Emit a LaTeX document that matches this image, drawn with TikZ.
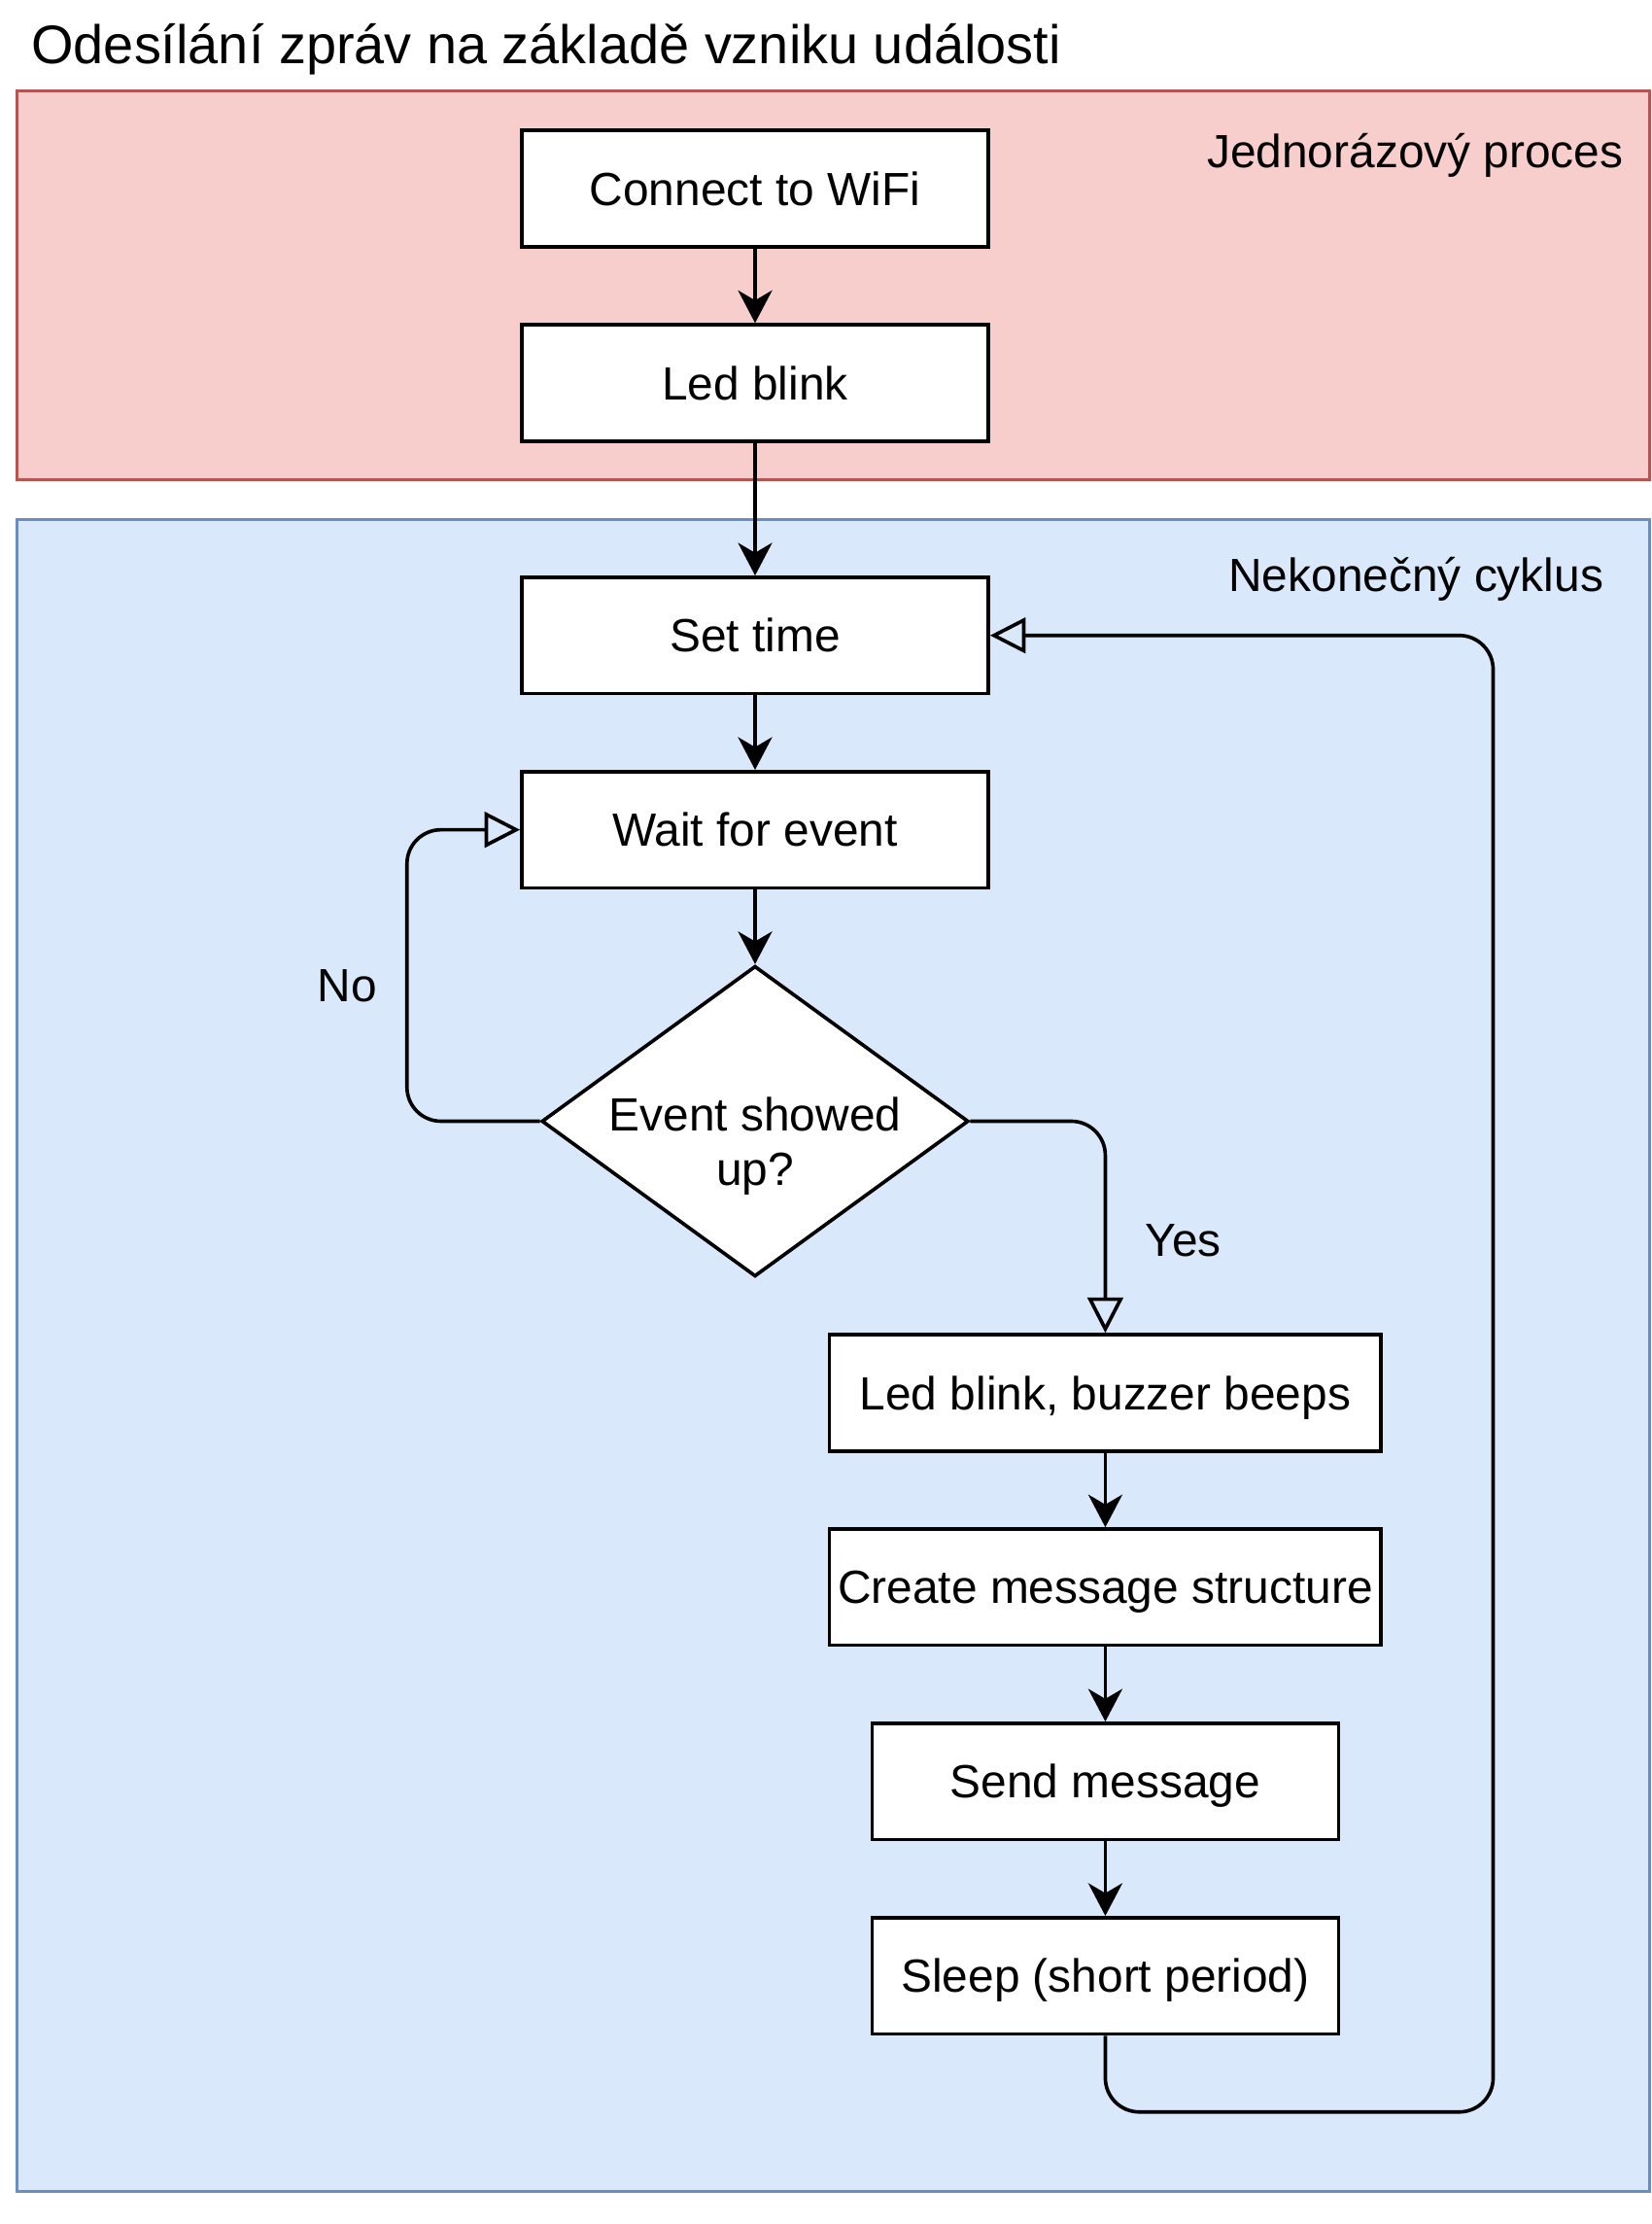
\documentclass[tikz,border=0pt]{standalone}
\usepackage{fontspec}
\setmainfont{Liberation Sans}
\usetikzlibrary{shapes.geometric,arrows.meta}
\definecolor{redfill}{HTML}{F8CECC}
\definecolor{redline}{HTML}{B85450}
\definecolor{bluefill}{HTML}{DAE8FC}
\definecolor{blueline}{HTML}{6C8EBF}

\begin{document}
\begin{tikzpicture}[x=1pt,y=-1pt,
  every node/.style={font=\fontsize{32.8}{38}\selectfont, inner sep=0pt},
  proc/.style={draw, fill=white, line width=2.5pt, minimum width=329pt, minimum height=82pt, text height=23.5pt, text depth=0pt},
  decision/.style={draw, fill=white, diamond, line width=2.5pt, minimum width=301pt, minimum height=219pt},
  flow/.style={line width=2.5pt, -{Stealth[length=23pt,width=24pt,inset=7pt]}},
  back/.style={line width=2.5pt, rounded corners=24pt, -{Triangle[open,length=25pt,width=25pt]}}]
\useasboundingbox (0,0) rectangle (1165,1568);
% containers
\draw[line width=2pt, draw=redline, fill=redfill] (12,64) rectangle (1163,338);
\draw[line width=2pt, draw=blueline, fill=bluefill] (12,366) rectangle (1163,1545);
\node[anchor=base west, font=\fontsize{38.3}{46}\selectfont] (title) at (22,45) {Odesílání zpráv na základě vzniku události};
\node[anchor=base east] (once) at (1145,118) {Jednorázový proces};
\node[anchor=base east] (cycle) at (1131,417) {Nekonečný cyklus};
% steps
\node[proc] (wifi) at (532.5,133) {Connect to WiFi};
\node[proc] (blink) at (532.5,270) {Led blink};
\node[proc] (settime) at (532.5,448) {Set time};
\node[proc] (wait) at (532.5,585) {Wait for event};
\node[decision] (evt) at (532.5,790.5) {};
\node[align=center] (evttext) at (532.5,808) {Event showed\\up?};
\node[proc, minimum width=389pt] (buzz) at (779.5,982) {Led blink, buzzer beeps};
\node[proc, minimum width=389pt] (msg) at (779.5,1119) {Create message structure};
\node[proc] (send) at (779.5,1256) {Send message};
\node[proc] (sleep) at (779.5,1393) {Sleep (short period)};
\node[anchor=base] (no) at (245,706) {No};
\node[anchor=base] (yes) at (834.5,886) {Yes};
% connectors
\draw[flow] (wifi) -- (blink);
\draw[flow] (blink) -- (settime);
\draw[flow] (settime) -- (wait);
\draw[flow] (wait) -- (evt);
\draw[flow] (buzz) -- (msg);
\draw[flow] (msg) -- (send);
\draw[flow] (send) -- (sleep);
\coordinate (nobend) at (287,790.5);
\draw[back] (evt.west) -- (nobend) |- (wait.west);
\draw[back] (evt.east) -| (buzz.north);
\coordinate (loopbend) at (1053,1489);
\draw[back] (sleep.south) |- (loopbend) |- (settime.east);
\end{tikzpicture}
\end{document}
